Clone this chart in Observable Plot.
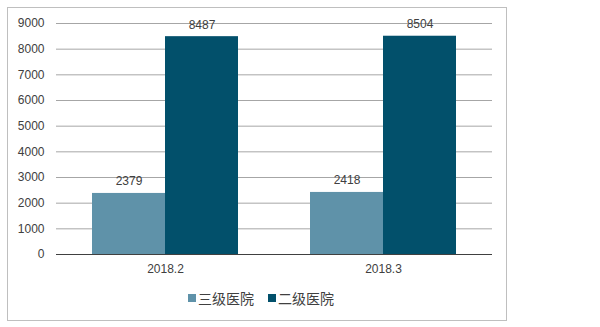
<!DOCTYPE html>
<html><head><meta charset="utf-8">
<script src="https://cdn.jsdelivr.net/npm/d3@7"></script>
<script src="https://cdn.jsdelivr.net/npm/@observablehq/plot@0.6"></script>
<style>
body{margin:0;background:#fff;}
#wrap{position:relative;width:600px;height:327px;font-family:"Liberation Sans",Arial,sans-serif;color:#404040;}
#frame{position:absolute;left:7px;top:7px;width:498px;height:312px;border:1px solid #bfbfbf;}
#chart{position:absolute;left:0;top:0;}
#legend{position:absolute;top:288px;left:188px;display:flex;align-items:center;font-size:14px;font-family:"Noto Sans CJK SC","Liberation Sans",sans-serif;}
.item{display:flex;align-items:center;margin-right:14px;}
.sw{width:8px;height:8px;margin-right:2px;}
</style></head><body>
<div id="wrap"><div id="frame"></div><div id="chart"></div><div id="legend"></div></div>
<script>
const categories = ["2018.2", "2018.3"];
const seriesNames = ["三级医院", "二级医院"];
const tertiary = [2379, 2418];
const secondary = [8487, 8504];
const yTicks = [0,1000,2000,3000,4000,5000,6000,7000,8000,9000];
const colors = ["#5f92a9", "#02506b"];

const d1 = categories.map((c,i)=>({cat:c, value:tertiary[i]}));
const d2 = categories.map((c,i)=>({cat:c, value:secondary[i]}));
const half = 73;

const plot = Plot.plot({
  width: 600, height: 285,
  marginLeft: 56, marginRight: 108, marginTop: 23, marginBottom: 31,
  style: {fontFamily: '"Liberation Sans", Arial, sans-serif', fontSize: "12px", color: "#404040", background: "transparent"},
  x: {domain: categories, paddingInner: 0.33, paddingOuter: 0.165, label: null, tickSize: 0, tickPadding: 10},
  y: {domain: [0, 9000], ticks: yTicks, tickFormat: d => String(d), label: null, tickSize: 0, tickPadding: 12},
  marks: [
    Plot.ruleY(yTicks.slice(1), {stroke: "#a6a6a6", strokeWidth: 1}),
    Plot.barY(d1, {x: "cat", y: "value", fill: colors[0], insetRight: half}),
    Plot.barY(d2, {x: "cat", y: "value", fill: colors[1], insetLeft: half}),
    Plot.ruleY([0], {stroke: "#404040", strokeWidth: 1}),
    Plot.text(d1, {x: "cat", y: "value", text: d=>String(d.value), dx: -half/2, dy: -12, fill: "#404040", fontSize: 12}),
    Plot.text(d2, {x: "cat", y: "value", text: d=>String(d.value), dx: half/2, dy: -12, fill: "#404040", fontSize: 12})
  ]
});
document.getElementById("chart").appendChild(plot);

const leg = document.getElementById("legend");
seriesNames.forEach((s,i)=>{
  const it = document.createElement("div"); it.className="item";
  const sw = document.createElement("div"); sw.className="sw"; sw.style.background=colors[i];
  const t = document.createElement("span"); t.textContent = s;
  it.appendChild(sw); it.appendChild(t); leg.appendChild(it);
});
</script></body></html>
